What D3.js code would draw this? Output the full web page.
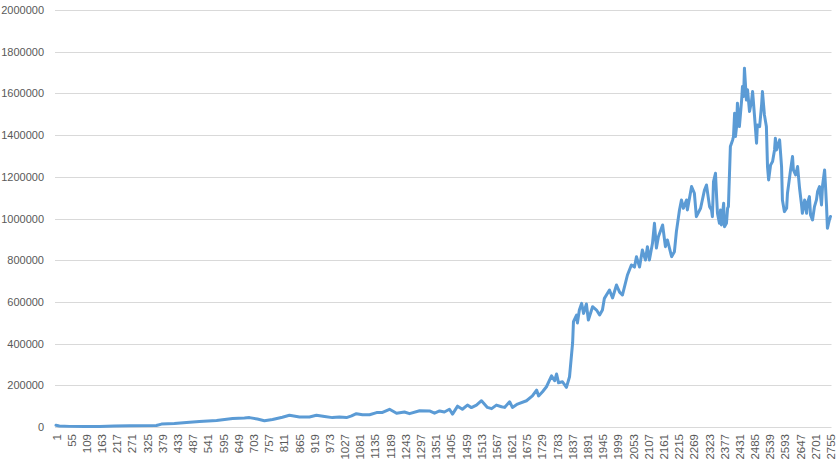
<!DOCTYPE html>
<html>
<head>
<meta charset="utf-8">
<script src="https://cdn.jsdelivr.net/npm/d3@7"></script>
<style>
    body { margin: 0; background: #fff; }
    text { font-family: "Liberation Sans", Arial, sans-serif; }
</style>
</head>
<body>
<script>
// category index (1..2755) of each point
const cats = [1, 13, 49, 102, 156, 209, 262, 358, 376, 422, 465, 511, 572, 629, 671, 689, 717, 742, 771, 806,
    831, 867, 902, 927, 956, 984, 1009, 1034, 1052, 1069, 1091, 1116, 1141, 1162, 1187, 1212, 1240, 1258, 1294, 1329,
    1347, 1365, 1382, 1400, 1411, 1429, 1446, 1464, 1478, 1496, 1514, 1535, 1550, 1567, 1585, 1596, 1614, 1624, 1642, 1674,
    1695, 1710, 1717, 1731, 1745, 1763, 1774, 1781, 1788, 1802, 1816, 1827, 1838, 1841, 1852, 1855, 1862, 1870, 1877, 1887,
    1894, 1909, 1923, 1934, 1944, 1951, 1969, 1980, 1994, 2005, 2015, 2033, 2047, 2058, 2065, 2076, 2086, 2097, 2104, 2111,
    2122, 2129, 2136, 2143, 2158, 2168, 2175, 2190, 2200, 2207, 2218, 2225, 2232, 2243, 2246, 2261, 2271, 2278, 2293, 2307,
    2314, 2325, 2332, 2335, 2339, 2346, 2350, 2353, 2360, 2364, 2367, 2375, 2378, 2385, 2389, 2392, 2399, 2407, 2410, 2414,
    2417, 2421, 2424, 2431, 2439, 2442, 2446, 2449, 2456, 2460, 2467, 2474, 2478, 2485, 2492, 2495, 2503, 2510, 2513, 2520,
    2527, 2531, 2535, 2542, 2549, 2556, 2559, 2563, 2574, 2581, 2584, 2591, 2599, 2602, 2613, 2620, 2623, 2631, 2638, 2645,
    2652, 2655, 2663, 2670, 2673, 2680, 2684, 2691, 2698, 2705, 2709, 2716, 2723, 2727, 2734, 2737, 2741, 2744, 2751, 2755];

// values at those categories
const vals = [8000, 5000, 3000, 2000, 2000, 5000, 6000, 7000, 14000, 17000, 22000, 26000, 31000, 41000, 43000, 45000, 38000, 30000, 36000, 47000,
    56000, 48000, 48000, 56000, 50000, 45000, 48000, 45000, 53000, 64000, 59000, 59000, 69000, 70000, 85000, 66000, 72000, 64000, 78000, 77000,
    66000, 77000, 72000, 85000, 62000, 100000, 85000, 105000, 93000, 105000, 126000, 94000, 88000, 105000, 97000, 94000, 121000, 94000, 110000, 126000,
    149000, 177000, 149000, 169000, 193000, 245000, 222000, 254000, 212000, 217000, 190000, 241000, 403000, 505000, 537000, 499000, 561000, 593000, 545000, 590000,
    513000, 577000, 561000, 537000, 561000, 617000, 657000, 619000, 681000, 647000, 633000, 729000, 777000, 767000, 817000, 767000, 849000, 801000, 865000, 801000,
    881000, 977000, 858000, 913000, 969000, 865000, 897000, 817000, 841000, 937000, 1041000, 1089000, 1049000, 1089000, 1041000, 1153000, 1121000, 1009000, 1049000, 1137000,
    1161000, 1057000, 1041000, 1009000, 1177000, 1217000, 1105000, 1025000, 977000, 1041000, 969000, 1073000, 961000, 977000, 1049000, 1057000, 1345000, 1377000, 1393000, 1505000,
    1393000, 1441000, 1553000, 1441000, 1568000, 1633000, 1585000, 1721000, 1568000, 1617000, 1513000, 1561000, 1609000, 1489000, 1361000, 1449000, 1441000, 1545000, 1609000, 1497000,
    1441000, 1249000, 1185000, 1257000, 1273000, 1329000, 1385000, 1329000, 1377000, 1249000, 1089000, 1033000, 1049000, 1121000, 1233000, 1297000, 1233000, 1209000, 1249000, 1145000,
    1065000, 1025000, 1089000, 1025000, 1073000, 1105000, 1017000, 993000, 1057000, 1089000, 1129000, 1153000, 1065000, 1161000, 1233000, 1161000, 1057000, 953000, 993000, 1010000];

const nCats = 2755;
const xLabelStep = 54;
const xLabels = d3.range(1, nCats + 1, xLabelStep);
const yTicks = d3.range(0, 2000001, 200000);

const width = 838, height = 464;
const plotLeft = 55, plotRight = 831.5, plotTop = 10, plotBottom = 427;

const svg = d3.select('body')
    .append('svg')
    .attr('width', width)
    .attr('height', height);

const x = d3.scaleLinear().domain([1, nCats]).range([56, 830.5]);
const y = d3.scaleLinear().domain([0, 2000000]).range([plotBottom, plotTop]);

// horizontal gridlines
svg.append('g')
    .selectAll('line')
    .data(yTicks)
    .enter()
    .append('line')
    .attr('x1', plotLeft)
    .attr('x2', plotRight)
    .attr('y1', d => Math.round(y(d)) + 0.5)
    .attr('y2', d => Math.round(y(d)) + 0.5)
    .attr('stroke', '#d9d9d9')
    .attr('stroke-width', 1);

// y axis labels
const yAxis = d3.axisLeft(y).tickValues(yTicks).tickSize(0).tickPadding(0).tickFormat(d3.format('d'));
svg.append('g')
    .attr('transform', 'translate(44,0)')
    .call(yAxis)
    .call(g => g.select('.domain').remove())
    .selectAll('text')
    .attr('font-size', 11)
    .attr('font-family', '"Liberation Sans", Arial, sans-serif')
    .attr('fill', '#595959');

// x axis labels, rotated
const xAxis = d3.axisBottom(x).tickValues(xLabels).tickSize(0).tickFormat(d3.format('d'));
svg.append('g')
    .attr('transform', `translate(0,${plotBottom})`)
    .call(xAxis)
    .call(g => g.select('.domain').remove())
    .selectAll('text')
    .attr('font-size', 11.5)
    .attr('font-family', '"Liberation Sans", Arial, sans-serif')
    .attr('fill', '#595959')
    .attr('text-anchor', 'end')
    .attr('transform', 'rotate(-90)')
    .attr('x', -7)
    .attr('y', 0)
    .attr('dy', '0.35em');

const line = d3.line()
    .x((d, i) => x(cats[i]))
    .y(d => y(d));

svg.append('path')
    .datum(vals)
    .attr('d', line)
    .attr('fill', 'none')
    .attr('stroke', '#5b9bd5')
    .attr('stroke-width', 3)
    .attr('stroke-linejoin', 'round')
    .attr('stroke-linecap', 'round');
</script>
</body>
</html>
